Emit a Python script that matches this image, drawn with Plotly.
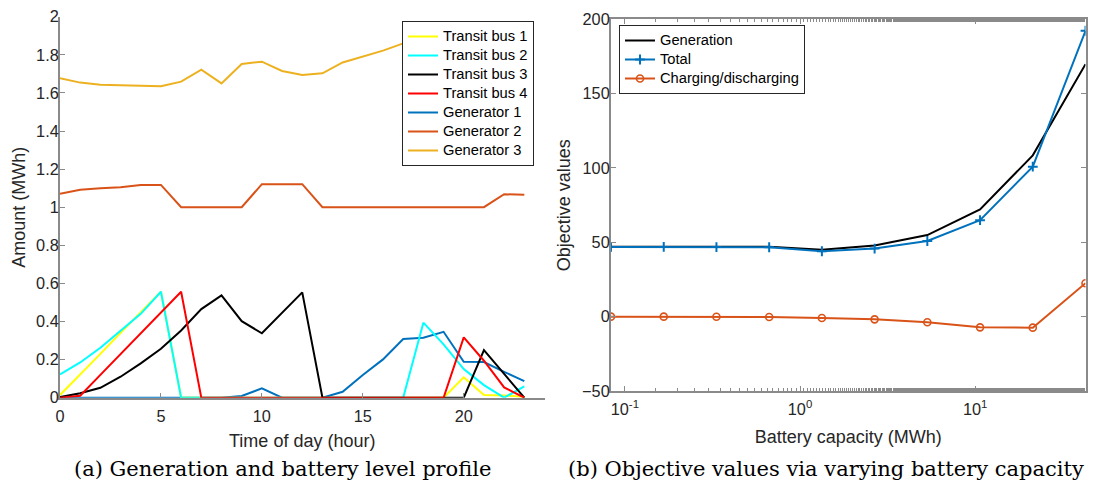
import plotly.graph_objects as go

# ---- (a) hourly battery level of transit buses and generator output ----
hours = list(range(24))

bus1 = [0.014, 0.12, 0.23, 0.34, 0.45, 0.556, 0, 0, 0, 0, 0, 0, 0, 0, 0, 0, 0, 0, 0, 0,
        0.107, 0.014, 0.012, 0.005]
bus2 = [0.122, 0.185, 0.262, 0.35, 0.44, 0.556, 0, 0, 0, 0, 0, 0, 0, 0, 0, 0, 0, 0,
        0.394, 0.28, 0.15, 0.066, 0.0, 0.06]
bus3 = [0.003, 0.023, 0.052, 0.11, 0.18, 0.257, 0.353, 0.465, 0.537, 0.402, 0.338, 0.445,
        0.553, 0, 0, 0, 0, 0, 0, 0, 0, 0.25, 0.128, 0]
bus4 = [0, 0.01, 0.12, 0.23, 0.34, 0.45, 0.556, 0, 0, 0, 0, 0, 0, 0, 0, 0, 0, 0, 0, 0,
        0.317, 0.194, 0.054, 0]
gen1 = [0, 0, 0, 0, 0, 0, 0, 0, 0, 0.009, 0.049, 0, 0, 0, 0.031, 0.119, 0.201, 0.308,
        0.315, 0.346, 0.189, 0.187, 0.136, 0.087]
gen2 = [1.070, 1.091, 1.100, 1.105, 1.117, 1.117, 1.0, 1.0, 1.0, 1.0, 1.121, 1.121, 1.121,
        1.0, 1.0, 1.0, 1.0, 1.0, 1.0, 1.0, 1.0, 1.0, 1.068, 1.065]
gen3 = [1.677, 1.654, 1.643, 1.640, 1.636, 1.635, 1.659, 1.722, 1.650, 1.752, 1.764, 1.715,
        1.694, 1.703, 1.760, 1.790, 1.822, 1.860, 1.885, 1.905, 1.920, 1.900, 1.880, 1.870]

# ---- (b) objective values versus battery capacity ----
capacity = [0.0833, 0.1667, 0.3333, 0.6667, 1.3333, 2.6667, 5.3333, 10.6667, 21.3333, 42.6667]
generation = [47.0, 47.0, 47.0, 47.0, 45.0, 47.9, 54.9, 72.1, 108.5, 169.8]
total = [46.9, 46.9, 46.8, 46.7, 44.0, 45.8, 50.9, 64.9, 100.9, 192.3]
charging = [0.0, 0.0, -0.1, -0.2, -0.9, -1.8, -3.8, -7.2, -7.4, 22.5]

W, H = 1096, 483
SANS = "Liberation Sans"
SERIF = "DejaVu Serif"
TXT = "#262626"
AX = "#8a8a8a"
LEGEND_PX = 14.7


def entry(label):
    # legend label at full size while the row pitch follows the smaller legend font
    return f'<span style="font-size:{LEGEND_PX}px">{label}</span>'


fig = go.Figure()

left_series = [
    ("Generator 1", gen1, "#0072BD", 5),
    ("Generator 2", gen2, "#D95319", 6),
    ("Generator 3", gen3, "#EDB120", 7),
    ("Transit bus 1", bus1, "#FFFF00", 1),
    ("Transit bus 2", bus2, "#00FFFF", 2),
    ("Transit bus 3", bus3, "#000000", 3),
    ("Transit bus 4", bus4, "#FF0000", 4),
]
for name, vals, color, rank in left_series:
    fig.add_trace(go.Scatter(
        x=hours, y=vals, name=entry(name), mode="lines",
        line=dict(color=color, width=2),
        legendrank=rank, legend="legend",
        xaxis="x", yaxis="y",
    ))

fig.add_trace(go.Scatter(
    x=capacity, y=generation, name=entry("Generation"), mode="lines",
    line=dict(color="#000000", width=2), legend="legend2",
    xaxis="x2", yaxis="y2",
))
fig.add_trace(go.Scatter(
    x=capacity, y=total, name=entry("Total"), mode="lines+markers",
    line=dict(color="#0072BD", width=2),
    marker=dict(symbol="cross-thin", size=7, line=dict(color="#0072BD", width=2)),
    legend="legend2", xaxis="x2", yaxis="y2",
))
fig.add_trace(go.Scatter(
    x=capacity, y=charging, name=entry("Charging/discharging"), mode="lines+markers",
    line=dict(color="#D95319", width=2),
    marker=dict(symbol="circle-open", size=7, line=dict(color="#D95319", width=1.6)),
    legend="legend2", xaxis="x2", yaxis="y2",
))

axis_common = dict(
    showline=True, linecolor=AX, linewidth=2,
    ticks="inside", ticklen=5, tickwidth=1, tickcolor=AX,
    showgrid=False, zeroline=False, automargin=False,
    tickfont=dict(family=SANS, size=16.3, color=TXT),
)
title_font = dict(family=SANS, size=18, color=TXT)

legend_common = dict(
    xref="paper", yref="paper", xanchor="left", yanchor="top",
    bgcolor="white", bordercolor=TXT, borderwidth=1,
    font=dict(family=SANS, size=12, color="#000000"),
    tracegroupgap=0, itemwidth=30,
)

fig.update_layout(
    width=W, height=H,
    margin=dict(l=0, r=0, t=0, b=0),
    paper_bgcolor="white", plot_bgcolor="white",
    showlegend=True,
    xaxis=dict(
        domain=[60 / W, 544.5 / W], range=[0, 24],
        tickvals=[0, 5, 10, 15, 20], ticklabelstandoff=3,
        title=dict(text="Time of day (hour)", font=title_font, standoff=10),
        anchor="y", **axis_common,
    ),
    yaxis=dict(
        domain=[(H - 397.7) / H, (H - 16.7) / H], range=[0, 2], dtick=0.2,
        ticklabelstandoff=-4,
        title=dict(text="Amount (MWh)", font=title_font, standoff=6),
        anchor="x", **axis_common,
    ),
    xaxis2=dict(
        domain=[611 / W, 1085.5 / W], type="log",
        range=[-1.0792, 1.6301],
        tickvals=[0.1, 1, 10], ticktext=["10<sup>-1</sup>", "10<sup>0</sup>", "10<sup>1</sup>"],
        minor=dict(ticks="inside", ticklen=3, tickcolor=AX, showgrid=False),
        mirror="ticks", ticklabelstandoff=2,
        title=dict(text="Battery capacity (MWh)", font=title_font, standoff=14),
        anchor="y2", **axis_common,
    ),
    yaxis2=dict(
        domain=[(H - 391) / H, (H - 19.3) / H], range=[-50, 200], dtick=50,
        mirror="ticks", ticklabelstandoff=-4,
        title=dict(text="Objective values", font=title_font, standoff=7),
        anchor="x2", **axis_common,
    ),
    legend=dict(x=402 / W, y=1 - 21 / H, **legend_common),
    legend2=dict(x=619 / W, y=1 - 25 / H, **legend_common),
    annotations=[
        dict(text="(a) Generation and battery level profile", x=282.5 / W, y=(H - 469) / H,
             xref="paper", yref="paper", xanchor="center", yanchor="middle", showarrow=False,
             font=dict(family=SERIF, size=21, color="#000000")),
        dict(text="(b) Objective values via varying battery capacity", x=826 / W, y=(H - 469) / H,
             xref="paper", yref="paper", xanchor="center", yanchor="middle", showarrow=False,
             font=dict(family=SERIF, size=21, color="#000000")),
    ],
)

fig.write_html("out.html")
